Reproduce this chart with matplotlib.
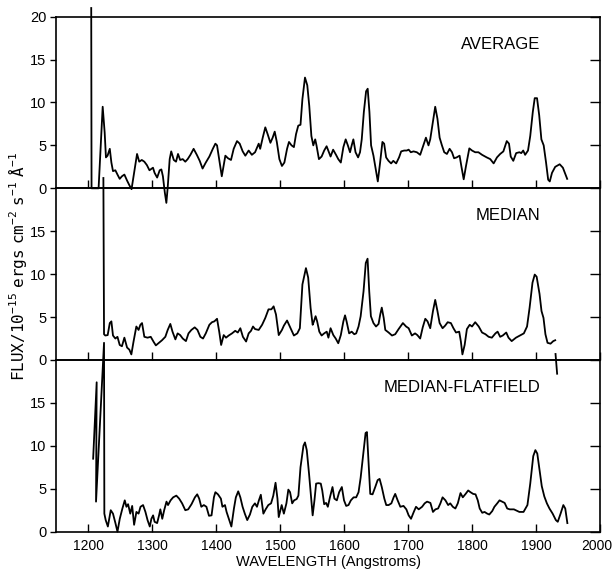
import numpy as np
import matplotlib
matplotlib.use("Agg")
import matplotlib.pyplot as plt
from matplotlib.transforms import ScaledTranslation

plt.rcParams["font.family"] = ["Liberation Sans", "DejaVu Sans"]

# ---- data (wavelength in Angstrom, flux in 1e-15 erg/cm2/s/A)
avg_wave = [1205, 1205.5, 1216.5, 1222.9, 1226, 1228, 1230.5, 1234, 1236.5, 1239,
            1242.7, 1246, 1249.5, 1253, 1256.8, 1261, 1265, 1268, 1272, 1276.6,
            1280, 1284, 1288, 1292, 1296, 1301.5, 1304, 1308, 1312, 1314.6,
            1317, 1320, 1322.4, 1324.5, 1327.6, 1330, 1334, 1337.5, 1340.6, 1344,
            1348, 1352, 1355.7, 1360, 1365, 1370, 1374.5, 1379, 1384, 1389.6,
            1395, 1399, 1401.6, 1405.7, 1409, 1414.6, 1418.7, 1423.4, 1427.6, 1432.8,
            1437, 1441.7, 1445.8, 1451, 1456, 1461, 1466.7, 1469, 1473, 1477,
            1480.7, 1485, 1488.5, 1491.7, 1495, 1499, 1503, 1506.8, 1511, 1514,
            1518, 1521.7, 1525, 1528.5, 1532, 1535, 1539, 1542.6, 1545.7, 1549,
            1552, 1555, 1557, 1560.8, 1565, 1569, 1572.8, 1576.5, 1579, 1583,
            1587.5, 1591, 1595, 1599, 1602.6, 1606, 1609.4, 1612, 1614.6, 1618,
            1622, 1625, 1627.7, 1631, 1634.5, 1637, 1639.7, 1642.3, 1646, 1649.6,
            1652.8, 1656.4, 1660, 1662.7, 1665.8, 1669.5, 1673.6, 1677, 1681.5, 1686,
            1689.3, 1694, 1698, 1701, 1704.4, 1708.6, 1713.8, 1719, 1724, 1728,
            1732, 1734.7, 1739, 1742.5, 1746, 1749.4, 1753, 1756.6, 1760.8, 1765,
            1768.7, 1772, 1776, 1780.6, 1783.3, 1787, 1790.6, 1795.8, 1800, 1805,
            1810, 1815.7, 1823, 1828.5, 1833.8, 1839, 1844, 1849, 1854.3, 1857.8,
            1860.5, 1864.5, 1869, 1874, 1877, 1880, 1883, 1887.5, 1891, 1895,
            1898, 1901.6, 1905, 1908.4, 1912, 1915.7, 1919, 1921.5, 1925, 1930,
            1937, 1942, 1948.7]
avg_flux = [21.0, 0.0, 0.0, 9.5, 6.5, 3.6, 3.8, 4.6, 3.0, 2.0,
            2.1, 1.6, 1.1, 1.4, 1.6, 0.9, 0.3, -0.1, 1.8, 4.0,
            3.1, 3.3, 3.1, 2.7, 2.1, 2.4, 1.8, 1.25, 2.1, 2.2,
            1.4, -0.5, -1.7, 0.1, 3.4, 4.3, 3.3, 3.1, 4.0, 3.3,
            3.4, 3.1, 3.4, 3.9, 4.6, 3.9, 3.2, 2.3, 3.0, 3.7,
            4.6, 5.2, 5.0, 3.0, 1.4, 3.8, 3.5, 3.3, 4.6, 5.5,
            5.2, 4.3, 3.8, 4.4, 3.9, 4.2, 5.2, 4.6, 5.9, 7.1,
            6.3, 5.3, 5.9, 6.6, 5.4, 3.4, 2.6, 3.0, 4.6, 5.4,
            5.0, 4.8, 6.3, 7.3, 7.4, 10.4, 12.9, 12.0, 9.6, 6.1,
            5.0, 5.7, 5.0, 3.4, 3.7, 4.4, 4.9, 4.2, 3.7, 4.5,
            3.9, 3.4, 3.0, 4.8, 5.7, 5.0, 4.2, 5.0, 5.7, 4.2,
            3.6, 4.2, 5.7, 8.9, 11.3, 11.6, 8.9, 5.0, 3.8, 2.2,
            0.8, 3.0, 5.4, 5.2, 3.6, 3.2, 2.9, 3.2, 2.9, 3.6,
            4.3, 4.4, 4.4, 4.5, 4.2, 4.3, 4.2, 3.9, 5.0, 5.9,
            5.0, 5.7, 7.8, 9.5, 8.1, 5.9, 5.0, 4.2, 4.0, 4.6,
            4.2, 3.5, 3.6, 3.8, 2.6, 1.05, 2.6, 4.65, 4.4, 4.2,
            4.2, 3.9, 3.6, 3.4, 2.9, 3.6, 4.0, 4.3, 5.5, 5.2,
            3.7, 3.2, 4.1, 4.2, 4.1, 4.4, 3.9, 4.4, 6.1, 8.9,
            10.5, 10.5, 8.5, 5.7, 5.0, 3.0, 1.0, 0.8, 1.8, 2.5,
            2.8, 2.4, 1.1]

med_wave = [1224, 1225, 1227, 1230.7, 1234, 1236.5, 1239, 1242.7, 1246, 1249.5,
            1253, 1256.8, 1261, 1264.6, 1267.7, 1271, 1275.5, 1279, 1281.8, 1284.4,
            1288, 1293, 1298, 1302.6, 1306, 1310, 1315.6, 1320.8, 1324.5, 1328.6,
            1332, 1336.5, 1340, 1344, 1348, 1353, 1357, 1361.5, 1366.7, 1371,
            1375.5, 1379.7, 1384, 1389.6, 1393.7, 1397.4, 1401.6, 1405, 1408, 1412,
            1415.6, 1419.8, 1425, 1430, 1434, 1438, 1442, 1447, 1451, 1454.7,
            1457.8, 1461, 1466.7, 1472, 1477, 1482, 1486.5, 1490, 1493.7, 1498,
            1503, 1506, 1511, 1516.5, 1521.7, 1527, 1531, 1535, 1540.5, 1544,
            1547.8, 1551, 1553, 1555.6, 1558, 1561.4, 1565, 1569, 1573, 1575.6,
            1579, 1583.3, 1587, 1591, 1595, 1599, 1601.6, 1604, 1608, 1612,
            1616, 1619, 1622.7, 1626, 1630.5, 1634, 1636.8, 1639.4, 1642, 1646,
            1650, 1654, 1656.6, 1659, 1662, 1664.5, 1669.7, 1675, 1680, 1685.3,
            1692, 1697, 1701, 1706, 1711, 1714.6, 1719, 1723, 1727, 1730.5,
            1734.7, 1739, 1742.5, 1746, 1749.4, 1754, 1758, 1762, 1767, 1771,
            1775, 1780, 1782.6, 1785, 1788.5, 1792, 1796.4, 1800, 1805, 1810.5,
            1815.7, 1821, 1826, 1831, 1836.6, 1840, 1844, 1848, 1853.5, 1857,
            1862, 1868.7, 1875, 1881, 1886, 1890, 1894.5, 1898, 1901, 1905.5,
            1908.6, 1911.7, 1914.7, 1918, 1922.7, 1927, 1930,
            np.nan, 1930.5, 1933]
med_flux = [21.2, 3.0, 2.85, 2.9, 4.3, 4.5, 2.85, 2.5, 2.7, 1.75,
            1.6, 2.6, 1.45, 1.2, 0.65, 2.1, 3.9, 3.5, 4.1, 4.3,
            2.7, 2.6, 2.7, 2.1, 1.7, 1.95, 2.3, 2.7, 3.5, 4.2,
            3.3, 2.4, 3.1, 2.9, 2.5, 2.2, 3.1, 3.5, 3.8, 3.5,
            2.7, 2.5, 3.1, 4.1, 4.4, 4.5, 4.8, 3.3, 1.75, 2.9,
            2.6, 2.85, 3.1, 3.4, 3.2, 3.7, 2.7, 2.15, 3.1, 3.4,
            3.9, 3.6, 3.5, 4.1, 4.9, 5.9, 5.9, 6.25, 5.3, 2.9,
            3.5, 4.0, 4.6, 3.7, 2.85, 3.1, 3.7, 8.8, 10.7, 9.6,
            6.05, 4.1, 4.5, 5.1, 4.5, 3.3, 2.85, 3.1, 3.3, 2.6,
            3.7, 2.9, 2.5, 1.95, 2.9, 4.5, 5.2, 4.5, 3.1, 3.3,
            3.0, 3.1, 3.9, 5.1, 8.0, 11.3, 11.8, 8.0, 5.1, 4.3,
            3.9, 4.2, 5.3, 6.1, 4.9, 3.5, 3.2, 2.85, 3.0, 3.6,
            4.3, 3.9, 3.7, 2.85, 3.1, 2.9, 2.5, 3.8, 4.8, 4.5,
            3.7, 5.7, 7.0, 5.7, 4.3, 3.7, 4.0, 4.4, 4.3, 3.7,
            3.2, 3.3, 2.15, 0.65, 1.75, 3.6, 4.1, 3.9, 4.4, 3.9,
            3.2, 3.0, 2.7, 2.6, 3.1, 3.3, 2.7, 2.85, 3.2, 2.6,
            2.2, 2.6, 2.85, 3.1, 3.9, 6.1, 9.0, 9.95, 9.7, 7.7,
            5.7, 4.9, 3.0, 2.0, 1.9, 2.2, 2.3,
            np.nan, 0.7, -1.6]

flat_wave = [1208, 1213.5, 1212.5, 1225, 1225.5, 1227.6, 1231, 1235.5, 1239, 1242.8,
             1246, 1249.6, 1253.7, 1257.4, 1260, 1262.6, 1266, 1269, 1272, 1275.6,
             1279, 1282, 1286, 1289.7, 1293, 1296.5, 1299, 1301.7, 1304, 1308,
             1311, 1313, 1316, 1319, 1322.6, 1325, 1329, 1333, 1338, 1342.4,
             1347, 1352, 1356.5, 1361.7, 1367, 1370.6, 1373.7, 1377, 1381, 1385,
             1389, 1393, 1396.7, 1399, 1403, 1407.6, 1410, 1414, 1416.5, 1420.6,
             1424, 1428, 1431, 1434.7, 1438, 1441.5, 1445, 1448.8, 1453, 1456.7,
             1460.8, 1464, 1467, 1470, 1474, 1477.5, 1481.7, 1486, 1489.5, 1493,
             1496, 1498, 1502.6, 1506, 1510, 1513, 1515.7, 1519, 1522, 1526,
             1528.7, 1532, 1536.6, 1539, 1541.8, 1545.4, 1548.6, 1551, 1553.8, 1556.4,
             1560, 1563.7, 1566, 1569, 1572, 1574.7, 1578, 1582, 1585, 1588.8,
             1592.4, 1596.6, 1600, 1603.4, 1607, 1610.7, 1615, 1619, 1622.7, 1626,
             1630.5, 1633.7, 1635.8, 1638.4, 1641, 1644.6, 1648.8, 1652.5, 1655.6, 1659,
             1663, 1666, 1669.7, 1674, 1677.5, 1680, 1683.8, 1688, 1693, 1697.4,
             1701, 1704.7, 1709, 1712.5, 1716.7, 1722, 1726, 1729.8, 1735, 1739,
             1742.8, 1747, 1750.6, 1754, 1758.5, 1762.7, 1766, 1770, 1774, 1777.8,
             1782, 1785.6, 1790, 1794, 1797.6, 1801.8, 1805.5, 1809, 1812, 1816,
             1819.6, 1823.8, 1827, 1831.6, 1835, 1839.4, 1843, 1847, 1851, 1855,
             1859, 1865.5, 1874, 1880.5, 1886.6, 1891, 1895.7, 1899, 1902, 1905.5,
             1909, 1913, 1917, 1921, 1926, 1931, 1934, 1938.4, 1942.7, 1945.7,
             1949]
flat_flux = [8.5, 17.4, 3.5, 22.0, 2.1, 1.35, 0.6, 2.5, 2.1, 1.0,
             0.0, 1.5, 2.7, 3.65, 2.9, 3.2, 2.1, 3.0, 0.8, 2.3,
             2.1, 2.9, 3.1, 2.3, 1.35, 0.6, 1.5, 1.9, 1.15, 1.0,
             1.9, 2.6, 1.5, 2.5, 3.5, 3.1, 3.65, 4.0, 4.2, 3.85,
             3.3, 2.5, 2.6, 3.2, 4.0, 4.35, 3.85, 2.9, 3.1, 2.9,
             1.85, 1.9, 4.0, 4.6, 4.35, 3.85, 2.9, 3.1, 2.3, 1.35,
             0.6, 2.7, 4.0, 4.7, 4.0, 2.9, 2.1, 1.35, 2.0, 2.9,
             3.3, 2.9, 3.65, 4.3, 2.1, 2.6, 3.1, 3.3, 4.2, 5.7,
             3.85, 1.7, 3.1, 2.1, 3.3, 4.9, 4.6, 3.3, 3.65, 3.8,
             4.2, 7.5, 10.0, 10.4, 9.5, 6.7, 4.0, 1.9, 3.65, 5.6,
             5.65, 5.6, 4.8, 3.2, 3.35, 2.9, 4.0, 5.2, 3.85, 3.65,
             4.6, 5.2, 3.65, 3.0, 3.1, 3.65, 4.0, 4.0, 4.6, 6.3,
             9.4, 11.5, 11.6, 7.9, 4.4, 4.35, 5.2, 6.0, 6.15, 5.2,
             3.85, 3.1, 3.1, 3.3, 4.0, 4.4, 3.65, 2.9, 3.0, 2.6,
             1.9, 1.5, 2.3, 2.9, 2.6, 2.9, 3.3, 3.5, 3.35, 2.3,
             2.6, 2.7, 3.3, 4.0, 3.65, 3.1, 3.3, 2.9, 2.7, 3.3,
             4.5, 4.0, 4.4, 4.8, 4.6, 4.4, 4.35, 3.65, 2.7, 2.2,
             2.3, 2.1, 2.0, 2.4, 2.9, 3.3, 3.65, 3.5, 3.35, 2.7,
             2.6, 2.6, 2.3, 2.3, 3.1, 5.6, 8.8, 9.5, 9.1, 7.2,
             5.3, 4.1, 3.3, 2.7, 2.1, 1.35, 1.15, 2.1, 3.1, 2.7,
             1.0]

panel_names = ["AVERAGE", "MEDIAN", "MEDIAN-FLATFIELD"]
series = [(avg_wave, avg_flux), (med_wave, med_flux), (flat_wave, flat_flux)]
x_ticks = list(range(1200, 2001, 100))

fig = plt.figure(figsize=(6.13, 5.69), dpi=100)
left, right = 0.0914, 0.9788
bottom, top = 0.0656, 0.9708
h = (top - bottom) / 3

for i, (name, (w, f)) in enumerate(zip(panel_names, series)):
    ax = fig.add_axes([left, top - (i + 1) * h, right - left, h])
    ax.set_facecolor("none")  # let spikes that leave a panel show over its neighbour
    ax.plot(w, f, color="black", lw=1.3, clip_on=False, zorder=3)
    ax.set_xlim(1150, 2000)
    ax.set_ylim(0, 20)
    ax.set_xticks(x_ticks)
    ax.set_yticks([0, 5, 10, 15, 20] if i == 0 else [0, 5, 10, 15])
    ax.tick_params(axis="x", direction="in", length=6, width=1, labelsize=10,
                   pad=5, labelbottom=(i == 2))
    ax.tick_params(axis="y", which="both", left=True, right=True, direction="out",
                   length=4, width=1, labelsize=10.5, pad=3)
    # right-hand ticks point inward
    for t in ax.yaxis.get_major_ticks():
        t.tick2line.set_marker(matplotlib.lines.TICKLEFT)
        t.tick2line.set_markersize(7)
    for s in ax.spines.values():
        s.set_linewidth(1.2)
    ax.text(1907, 16.8, name, ha="right", va="center", fontsize=12)
    if i == 2:
        ax.set_xlabel("WAVELENGTH (Angstroms)", fontsize=10.5, labelpad=2)
        # keep the last tick label inside the canvas
        lab = ax.get_xticklabels()[-1]
        lab.set_transform(lab.get_transform()
                          + ScaledTranslation(-3 / 100, 0, fig.dpi_scale_trans))

fig.text(0.029, 0.531,
         r"$\mathtt{FLUX/10^{-15}\ ergs\ cm^{-2}\ s^{-1}\ \AA^{-1}}$",
         rotation=90, ha="center", va="center", fontsize=11.5)

fig.savefig("out.png", dpi=100)
